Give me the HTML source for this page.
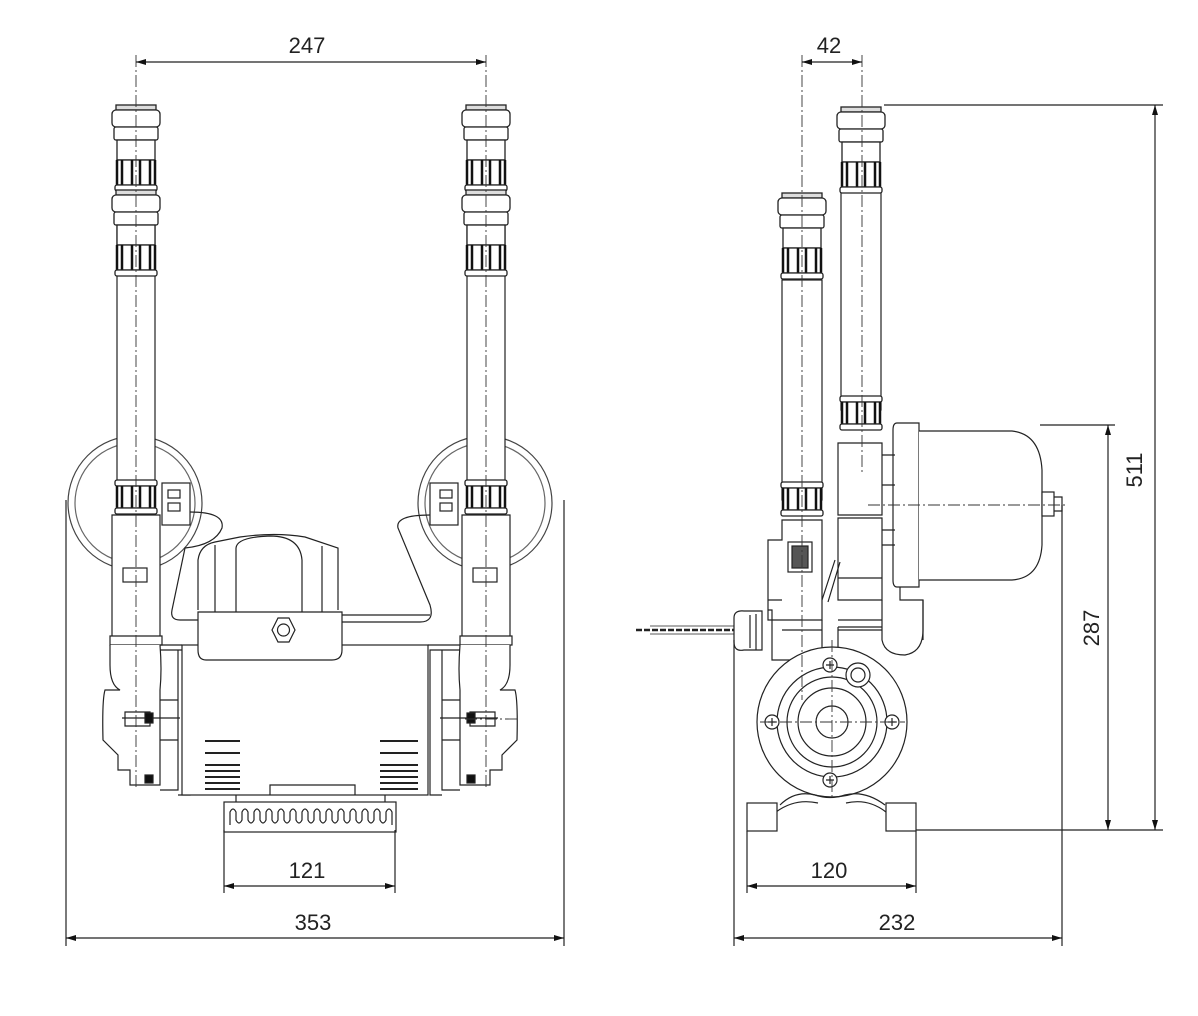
<!DOCTYPE html>
<html><head><meta charset="utf-8"><style>
html,body{margin:0;padding:0;background:#fff;}
svg{display:block;}
text{font-family:"Liberation Sans",Arial,sans-serif;font-size:22px;fill:#222;}
</style></head><body>
<svg width="1198" height="1016" viewBox="0 0 1198 1016" xmlns="http://www.w3.org/2000/svg">
<defs>
<marker id="ae" viewBox="0 0 10 6" refX="10" refY="3" markerWidth="10" markerHeight="6" orient="auto-start-reverse" markerUnits="userSpaceOnUse"><path d="M0,0 L10,3 L0,6z" fill="#111"/></marker>
<g id="fit" fill="#fff" stroke="#222" stroke-width="1.3">
<rect x="-20" y="0" width="40" height="5" fill="#ddd"/>
<rect x="-24" y="5" width="48" height="17" rx="4"/>
<rect x="-22" y="22" width="44" height="13" rx="2"/>
<rect x="-19" y="35" width="38" height="20"/>
<rect x="-19" y="55" width="38" height="25"/>
<path d="M-19,55V80M-14,55V80M-4,55V80M4,55V80M14,55V80M19,55V80" stroke="#111" stroke-width="2.5"/>
<rect x="-21" y="80" width="42" height="6" rx="2"/>
</g>
<g id="band" stroke="#222" stroke-width="1.3" fill="#fff">
<rect x="-21" y="0" width="42" height="6" rx="2"/>
<rect x="-19" y="6" width="38" height="22"/>
<path d="M-19,6V28M-14,6V28M-4,6V28M4,6V28M14,6V28M19,6V28" stroke="#111" stroke-width="2.5"/>
<rect x="-21" y="28" width="42" height="6" rx="2"/>
</g>
</defs>

<g fill="none" stroke="#222" stroke-width="1.2">
<!-- ===== LEFT VIEW ===== -->
<!-- circles -->
<circle cx="135" cy="503" r="67" stroke="#444"/>
<circle cx="135" cy="503" r="60" stroke="#666"/>
<circle cx="485" cy="503" r="67" stroke="#444"/>
<circle cx="485" cy="503" r="60" stroke="#666"/>
<!-- pipes -->
<g fill="#fff">
<rect x="117" y="190" width="38" height="300"/>
<rect x="467" y="190" width="38" height="300"/>
</g>
<use href="#fit" x="136" y="105"/>
<use href="#fit" x="136" y="190"/>
<use href="#fit" x="486" y="105"/>
<use href="#fit" x="486" y="190"/>
<use href="#band" x="136" y="480"/>
<use href="#band" x="486" y="480"/>
<!-- pump bodies below pipes -->
<g fill="#fff">
<path d="M112,515 H160 V640 H112 Z"/>
<path d="M462,515 H510 V640 H462 Z"/>
<rect x="123" y="568" width="24" height="14"/>
<rect x="473" y="568" width="24" height="14"/>
<path d="M110,636 H162 V645 H110Z"/>
<path d="M460,636 H512 V645 H460Z"/>
<path d="M110,645 V665 Q110,685 120,690 H105 Q102,700 103,740 L118,755 V770 H130 V785 H160 V690 Q162,670 160,645"/>
<path d="M510,645 V665 Q510,685 500,690 H515 Q518,700 517,740 L502,755 V770 H490 V785 H460 V690 Q458,670 460,645"/>
</g>
<!-- side flanges -->
<path d="M160,650 H178 V790 H160 M178,650 H190 V795 H178 M160,700 H178 M160,740 H178"/>
<path d="M460,650 H442 V790 H460 M442,650 H430 V795 H442 M460,700 H442 M460,740 H442"/>
<path d="M122,718 H180 M125,712 H150 V726 H125Z"/>
<path d="M498,718 H440 M495,712 H470 V726 H495Z"/>
<rect x="145" y="713" width="8" height="10" fill="#111"/>
<rect x="467" y="713" width="8" height="10" fill="#111"/>
<rect x="145" y="775" width="8" height="8" fill="#111"/>
<rect x="467" y="775" width="8" height="8" fill="#111"/>
<!-- terminal blocks -->
<rect x="162" y="483" width="28" height="42" fill="#fff"/>
<rect x="168" y="490" width="12" height="8"/><rect x="168" y="503" width="12" height="8"/>
<rect x="430" y="483" width="28" height="42" fill="#fff"/>
<rect x="440" y="490" width="12" height="8"/><rect x="440" y="503" width="12" height="8"/>
<!-- wires -->
<path d="M190,512 Q225,512 222,528 Q215,545 185,548 L172,610 Q170,620 180,620 H198"/>
<path d="M430,515 Q395,515 398,528 L430,605 Q435,622 420,622 H340"/>
<path d="M340,615 H430"/>
<!-- motor body -->
<rect x="182" y="645" width="246" height="150" fill="#fff"/>
<path d="M182,645 H160 M428,645 H460"/>
<!-- vents -->
<g stroke-width="2">
<path d="M205,741 H240 M205,753 H240 M205,765 H240 M205,771 H240 M205,777 H240 M205,783 H240 M205,789 H240"/>
<path d="M380,741 H418 M380,753 H418 M380,765 H418 M380,771 H418 M380,777 H418 M380,783 H418 M380,789 H418"/>
</g>
<!-- terminal box -->
<path d="M198,610 V560 Q200,545 215,542 L240,537 Q275,532 305,537 L338,548 V610" fill="#fff"/>
<path d="M236,548 Q237,537 270,536 Q300,536 302,560 V618 M236,548 V618 M215,545 V618 M322,546 V618"/>
<path d="M198,612 H342 V650 Q342,660 332,660 H206 Q198,660 198,650Z" fill="#fff"/>
<path d="M278,618 L289,618 L295,630 L289,642 L278,642 L272,630Z" fill="#fff"/>
<circle cx="283.5" cy="630" r="6"/>
<!-- heatsink -->
<path d="M270,795 V785 H355 V795"/>
<rect x="224" y="802" width="172" height="30" fill="#fff"/>
<path d="M230,825 V812 q3,-6 6,0 v8 q3,6 6,0 v-8 q3,-6 6,0 v8 q3,6 6,0 v-8 q3,-6 6,0 v8 q3,6 6,0 v-8 q3,-6 6,0 v8 q3,6 6,0 v-8 q3,-6 6,0 v8 q3,6 6,0 v-8 q3,-6 6,0 v8 q3,6 6,0 v-8 q3,-6 6,0 v8 q3,6 6,0 v-8 q3,-6 6,0 v8 q3,6 6,0 v-8 q3,-6 6,0 v8 q3,6 6,0 v-8 q3,-6 6,0 v8 q3,6 6,0 v-8 q3,-6 6,0 v8 q3,6 6,0 v-8 q3,-6 6,0 v8 q3,6 6,0 v-8 q3,-6 6,0 v8 q3,6 6,0 v-8 q3,-6 6,0 V825"/>
<path d="M236,802 V795 M385,802 V795"/>
<!-- centre lines -->
<g stroke-dasharray="12,3,2,3" stroke="#333" stroke-width="0.9">
<path d="M136,55 V790"/>
<path d="M486,55 V790"/>
<path d="M465,719 H520"/>
</g>
<!-- dimension lines left -->
<path d="M136,62 H486" marker-start="url(#ae)" marker-end="url(#ae)"/>
<path d="M66,500 V946 M564,500 V946"/>
<path d="M66,938 H564" marker-start="url(#ae)" marker-end="url(#ae)"/>
<path d="M224,830 V893 M395,830 V893"/>
<path d="M224,886 H395" marker-start="url(#ae)" marker-end="url(#ae)"/>

<!-- ===== RIGHT VIEW ===== -->
<!-- tank -->
<path d="M897,423 H919 V587 H897 Q893,587 893,580 V430 Q893,423 897,423Z" fill="#fff"/>
<path d="M919,431 H1012 Q1040,434 1042,470 V545 Q1040,578 1012,580 H919" fill="#fff"/>
<rect x="1042" y="492" width="12" height="24" fill="#fff"/>
<path d="M1054,497 H1062 V511 H1054"/>
<path d="M900,587 V600 H923 V640"/>
<!-- pipes -->
<rect x="782" y="280" width="40" height="220" fill="#fff"/>
<rect x="841" y="190" width="40" height="220" fill="#fff"/>
<use href="#fit" x="802" y="193"/>
<use href="#fit" x="861" y="107"/>
<use href="#band" x="802" y="482"/>
<use href="#band" x="861" y="396"/>
<!-- pipe 2 lower body -->
<path d="M838,443 H882 V515 H838Z" fill="#fff"/>
<path d="M838,518 H882 V600 H838Z" fill="#fff"/>
<path d="M882,455 H895 M882,485 H895 M882,530 H895 M882,545 H895"/>
<path d="M838,578 H882 M838,620 H882 M838,627 H882"/>
<!-- pipe1 lower body/switch -->
<path d="M768,540 H782 V520 H822 V620 H768Z" fill="#fff"/>
<rect x="788" y="542" width="24" height="30"/>
<rect x="792" y="546" width="16" height="22" fill="#555"/>
<path d="M822,600 L835,560 M828,602 L840,562"/>
<path d="M768,600 H782 M768,610 H772 V660 H790"/>
<path d="M822,620 V700 M838,627 V700 M782,630 H822 M838,630 H882"/>
<path d="M882,600 V640 Q885,655 905,655 Q923,652 923,630 V600"/>
<!-- cable gland -->
<path d="M734,618 Q734,610 744,611 H762 V650 H744 Q734,652 734,642Z" fill="#fff"/>
<path d="M750,615 V648 M756,614 V650"/>
<path d="M636,630 H734" stroke-dasharray="6,2" stroke-width="2.5"/>
<path d="M650,626 H734 M650,634 H734" stroke-width="0.8"/>
<!-- pump volute -->
<circle cx="832" cy="722" r="75" fill="#fff"/>
<circle cx="832" cy="722" r="55"/>
<circle cx="832" cy="722" r="45"/>
<circle cx="832" cy="722" r="34"/>
<circle cx="832" cy="722" r="16"/>
<circle cx="858" cy="675" r="12" fill="#fff"/><circle cx="858" cy="675" r="7"/>
<g fill="#fff">
<circle cx="772" cy="722" r="7"/><circle cx="892" cy="722" r="7"/>
<circle cx="830" cy="665" r="7"/><circle cx="830" cy="780" r="7"/>
</g>
<path d="M768,722 h8 M772,718 v8 M888,722 h8 M892,718 v8 M826,665 h8 M830,661 v8 M826,780 h8 M830,776 v8"/>
<!-- feet -->
<path d="M780,805 Q795,790 815,795 Q830,800 845,795 Q865,790 885,805"/>
<path d="M776,812 Q795,798 818,803 M846,803 Q868,798 886,812"/>
<rect x="747" y="803" width="30" height="28" fill="#fff"/>
<rect x="886" y="803" width="30" height="28" fill="#fff"/>
<!-- centre lines -->
<g stroke-dasharray="12,3,2,3" stroke="#333" stroke-width="0.9">
<path d="M802,55 V700"/>
<path d="M862,55 V475"/>
<path d="M868,505 H1068"/>
<path d="M760,722 H905"/>
<path d="M832,640 V800"/>
</g>
<!-- dims right -->
<path d="M802,62 H862" marker-start="url(#ae)" marker-end="url(#ae)"/>
<path d="M884,105 H1163 M916,830 H1163 M1040,425 H1115"/>
<path d="M1155,105 V830" marker-start="url(#ae)" marker-end="url(#ae)"/>
<path d="M1108,425 V830" marker-start="url(#ae)" marker-end="url(#ae)"/>
<path d="M747,831 V893 M916,831 V893"/>
<path d="M747,886 H916" marker-start="url(#ae)" marker-end="url(#ae)"/>
<path d="M734,640 V946 M1062,505 V946"/>
<path d="M734,938 H1062" marker-start="url(#ae)" marker-end="url(#ae)"/>
</g>

<text x="307" y="53" text-anchor="middle">247</text>
<text x="307" y="878" text-anchor="middle">121</text>
<text x="313" y="930" text-anchor="middle">353</text>
<text x="829" y="53" text-anchor="middle">42</text>
<text x="829" y="878" text-anchor="middle">120</text>
<text x="897" y="930" text-anchor="middle">232</text>
<text transform="translate(1142,470) rotate(-90)" text-anchor="middle">511</text>
<text transform="translate(1099,628) rotate(-90)" text-anchor="middle">287</text>
</svg>
</body></html>
